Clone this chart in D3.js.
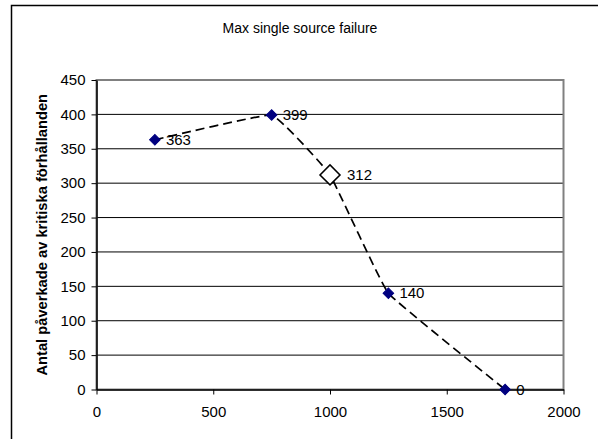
<!DOCTYPE html>
<html><head><meta charset="utf-8">
<script src="https://cdn.jsdelivr.net/npm/d3@7"></script>
<style>body{margin:0;background:#fff}svg{display:block}text{font-family:"Liberation Sans",Arial,sans-serif}</style>
</head><body>
<svg id="c" width="598" height="439"></svg>
<script>
const title = "Max single source failure";
const yTitle = "Antal påverkade av kritiska förhållanden";
const xValues = [250, 750, 1000, 1250, 1750];
const yValues = [363, 399, 312, 140, 0];
const highlighted = [false, false, true, false, false];
const xTicks = [0, 500, 1000, 1500, 2000];
const yTicks = [0, 50, 100, 150, 200, 250, 300, 350, 400, 450];

const svg = d3.select("#c");
svg.append("rect").attr("x",11.5).attr("y",5.5).attr("width",620).attr("height",440)
  .attr("fill","#fff").attr("stroke","#000").attr("stroke-width",1.5);

const x = d3.scaleLinear().domain([0,2000]).range([96.5,563.5]);
const y = d3.scaleLinear().domain([0,450]).range([389.5,80]);

svg.append("g").selectAll("line").data(yTicks.filter(d=>d>0 && d<450)).join("line")
  .attr("x1",x(0)).attr("x2",x(2000)).attr("y1",d=>y(d)).attr("y2",d=>y(d))
  .attr("stroke","#000").attr("stroke-width",1);
svg.append("rect").attr("x",x(0)).attr("y",y(450)).attr("width",x(2000)-x(0)).attr("height",y(0)-y(450))
  .attr("fill","none").attr("stroke","#808080").attr("stroke-width",2);

const xa = svg.append("g").attr("transform",`translate(0,${y(0)})`)
  .call(d3.axisBottom(x).tickValues(xTicks).tickFormat(d3.format("d")).tickSize(5).tickPadding(12).tickSizeOuter(0));
const ya = svg.append("g").attr("transform",`translate(${x(0)},0)`)
  .call(d3.axisLeft(y).tickValues(yTicks).tickFormat(d3.format("d")).tickSize(5).tickPadding(6).tickSizeOuter(0));
[xa,ya].forEach(a=>{
  a.attr("font-size",15).attr("font-family","Liberation Sans, Arial, sans-serif");
  a.selectAll("text").attr("fill","#000");
  a.selectAll("line").attr("stroke","#000");
  a.select(".domain").attr("stroke","#000").attr("stroke-width",1.5);
});

svg.append("text").attr("x",300).attr("y",33).attr("text-anchor","middle").attr("font-size",14).text(title);
svg.append("text").attr("transform",`translate(47,${(y(0)+y(450))/2}) rotate(-90)`)
  .attr("text-anchor","middle").attr("font-size",14.7).attr("font-weight","bold").text(yTitle);

const pts = xValues.map((v,i)=>({x:v,y:yValues[i],h:highlighted[i]}));
const line = d3.line().x(d=>x(d.x)).y(d=>y(d.y)).curve(d3.curveCardinal.tension(0.75));
svg.append("path").attr("d",line(pts)).attr("fill","none").attr("stroke","#000")
  .attr("stroke-width",1.7).attr("stroke-dasharray","9,5");

svg.append("g").selectAll("path").data(pts).join("path")
  .attr("d",d=>d3.symbol().type(d3.symbolSquare).size(d.h?200:56)())
  .attr("transform",d=>`translate(${x(d.x)},${y(d.y)}) rotate(45)`)
  .attr("fill",d=>d.h?"#fff":"#000080").attr("stroke",d=>d.h?"#000":"#000080").attr("stroke-width",d=>d.h?1.5:1);

svg.append("g").selectAll("text").data(pts).join("text")
  .attr("x",d=>x(d.x)+(d.h?17:11)).attr("y",d=>y(d.y)+5)
  .attr("font-size",15).text(d=>d.y);
</script>
</body></html>
